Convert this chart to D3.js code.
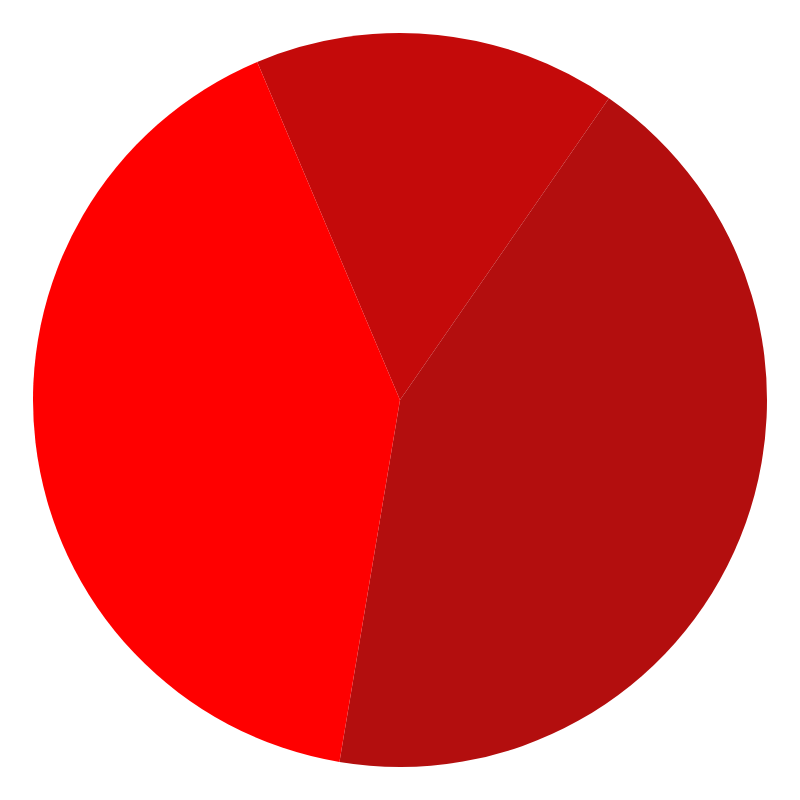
<!DOCTYPE html>
<html lang="en">
<head>
    <meta charset="UTF-8">
    <title>Pie</title>
    <script src="https://d3js.org/d3.v7.min.js"></script>
    <style>
        body { margin: 0; background: #fff; }
    </style>
</head>
<body>
    <svg width="800" height="800" id="mainsvg"></svg>
    <script>
        // slices, clockwise from the top-left edge
        const names = ['A', 'B', 'C'];
        const values = [16, 43, 41];
        const colors = ['#c40a0a', '#b30e0e', '#ff0000'];

        const svg = d3.select('#mainsvg');
        const width = +svg.attr('width');
        const height = +svg.attr('height');
        const radius = 367;

        const start = -22.9 * Math.PI / 180;
        const pie = d3.pie().sort(null).value(d => d.value)
            .startAngle(start).endAngle(start + 2 * Math.PI);
        const arc = d3.arc().innerRadius(0).outerRadius(radius);

        const data = names.map((n, i) => ({name: n, value: values[i]}));
        const color = d3.scaleOrdinal().domain(names).range(colors);

        const g = svg.append('g').attr('transform', `translate(${width / 2},${height / 2})`);

        g.selectAll('path')
            .data(pie(data))
            .join('path')
            .attr('d', arc)
            .attr('fill', d => color(d.data.name));
    </script>
</body>
</html>
